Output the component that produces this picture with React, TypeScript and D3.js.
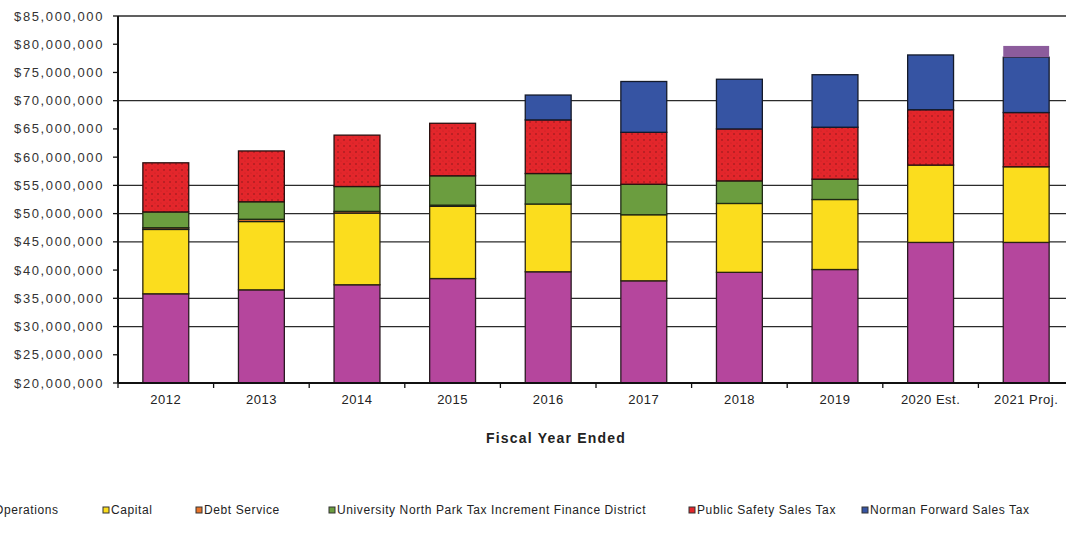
import React from "react";
import * as d3 from "d3";

const categories = ["2012", "2013", "2014", "2015", "2016", "2017", "2018", "2019", "2020 Est.", "2021 Proj."];
const operations = [35.8, 36.5, 37.4, 38.5, 39.7, 38.1, 39.6, 40.1, 44.9, 44.9];
const capital = [11.4, 12.1, 12.7, 12.8, 12.0, 11.7, 12.2, 12.4, 13.7, 13.4];
const debtService = [0.3, 0.4, 0.3, 0.2, 0, 0, 0, 0, 0, 0];
const universityNorthPark = [2.8, 3.1, 4.4, 5.2, 5.4, 5.4, 4.0, 3.6, 0, 0];
const publicSafety = [8.7, 9.0, 9.1, 9.3, 9.5, 9.2, 9.2, 9.2, 9.8, 9.6];
const normanForward = [0, 0, 0, 0, 4.4, 9.0, 8.8, 9.3, 9.7, 9.8];
const additional = [0, 0, 0, 0, 0, 0, 0, 0, 0, 2.0];

const yTicks = [20, 25, 30, 35, 40, 45, 50, 55, 60, 65, 70, 75, 80, 85];
const gridValues = [30, 35, 45, 50, 55, 70, 85];

const seriesDefs = [
  { name: "Operations", values: operations, color: "#b5469d", stroke: "#2a1a22" },
  { name: "Capital", values: capital, color: "#fbdd1e", stroke: "#2a2410" },
  { name: "Debt Service", values: debtService, color: "#e8742a", stroke: "#1a1a1a" },
  { name: "University North Park Tax Increment Finance District", values: universityNorthPark, color: "#6b9d3f", stroke: "#1f2a14" },
  { name: "Public Safety Sales Tax", values: publicSafety, color: "url(#dots)", stroke: "#2a1010" },
  { name: "Norman Forward Sales Tax", values: normanForward, color: "#3654a3", stroke: "#141a2a" },
  { name: "", values: additional, color: "#8c5c9c", stroke: "none" },
];

const legendItems = [
  { name: "Operations", color: "#b5469d", x: -14 },
  { name: "Capital", color: "#fbdd1e", x: 103 },
  { name: "Debt Service", color: "#e8742a", x: 196 },
  { name: "University North Park Tax Increment Finance District", color: "#6b9d3f", x: 329 },
  { name: "Public Safety Sales Tax", color: "#e3262b", x: 689 },
  { name: "Norman Forward Sales Tax", color: "#3654a3", x: 862 },
];

const fmt = (v: number) => "$" + d3.format(",")(v * 1000000);

export default function App() {
  const left = 118;
  const right = 1074;
  const top = 16;
  const bottom = 383;
  const x = d3.scaleBand<string>().domain(categories).range([left, right]).paddingInner(0.52).paddingOuter(0.26);
  const y = d3.scaleLinear().domain([20, 85]).range([bottom, top]).clamp(true);
  const step = x.step();

  const rows = categories.map((c, i) => {
    const r: any = { cat: c };
    seriesDefs.forEach((s, k) => (r["s" + k] = s.values[i]));
    return r;
  });
  const stack = d3.stack<any>().keys(seriesDefs.map((_, k) => "s" + k));
  const stacked = stack(rows);

  const font = "'Liberation Sans', Arial, sans-serif";

  return (
    <svg width={1066} height={535} style={{ position: "absolute", left: 0, top: 0, background: "#fff" }} fontFamily={font}>
      <defs>
        <pattern id="dots" width="6" height="6" patternUnits="userSpaceOnUse">
          <rect width="6" height="6" fill="#e3262b" />
          <circle cx="2" cy="2" r="0.8" fill="#6a1414" opacity="0.75" />
          <circle cx="5" cy="5" r="0.6" fill="#8a1a1a" opacity="0.5" />
        </pattern>
      </defs>
      <rect width={1066} height={535} fill="#fff" />
      {gridValues.map((g) => (
        <line key={g} x1={left} x2={1066} y1={y(g)} y2={y(g)} stroke="#2b2b2b" strokeWidth={1.3} />
      ))}
      {stacked.map((layer, k) =>
        layer.map((d, i) => {
          const h = y(d[0]) - y(d[1]);
          if (h <= 0) return null;
          const s = seriesDefs[k];
          return (
            <rect
              key={k + "-" + i}
              x={x(categories[i])!}
              y={y(d[1])}
              width={x.bandwidth()}
              height={h}
              fill={s.color}
              stroke={s.stroke}
              strokeWidth={s.stroke === "none" ? 0 : 1.3}
            />
          );
        })
      )}
      {/* y axis */}
      <line x1={left} x2={left} y1={top} y2={bottom} stroke="#111" strokeWidth={2} />
      {yTicks.map((t) => (
        <g key={t}>
          <line x1={left - 5} x2={left} y1={y(t)} y2={y(t)} stroke="#111" strokeWidth={1.3} />
          <text x={104} y={y(t)} dy="0.35em" textAnchor="end" fontSize={13} letterSpacing={1.6} fill="#333">
            {fmt(t)}
          </text>
        </g>
      ))}
      {/* x axis */}
      <line x1={left} x2={1066} y1={bottom} y2={bottom} stroke="#111" strokeWidth={2} />
      {categories.map((c, i) => (
        <g key={c}>
          <line x1={left + i * step} x2={left + i * step} y1={bottom} y2={bottom + 5} stroke="#111" strokeWidth={1.3} />
          <text x={x(c)! + x.bandwidth() / 2} y={399} dy="0.35em" textAnchor="middle" fontSize={13} letterSpacing={0.5} fill="#222">
            {c}
          </text>
        </g>
      ))}
      <text x={556} y={438} dy="0.35em" textAnchor="middle" fontSize={14} letterSpacing={1.2} fontWeight="bold" fill="#222">
        Fiscal Year Ended
      </text>
      {legendItems.map((l) => (
        <g key={l.name}>
          <rect x={l.x} y={507} width={6} height={6} fill={l.color} stroke="#333" strokeWidth={1} />
          <text x={l.x + 8} y={510} dy="0.35em" fontSize={12} letterSpacing={0.6} fill="#222">
            {l.name}
          </text>
        </g>
      ))}
    </svg>
  );
}
